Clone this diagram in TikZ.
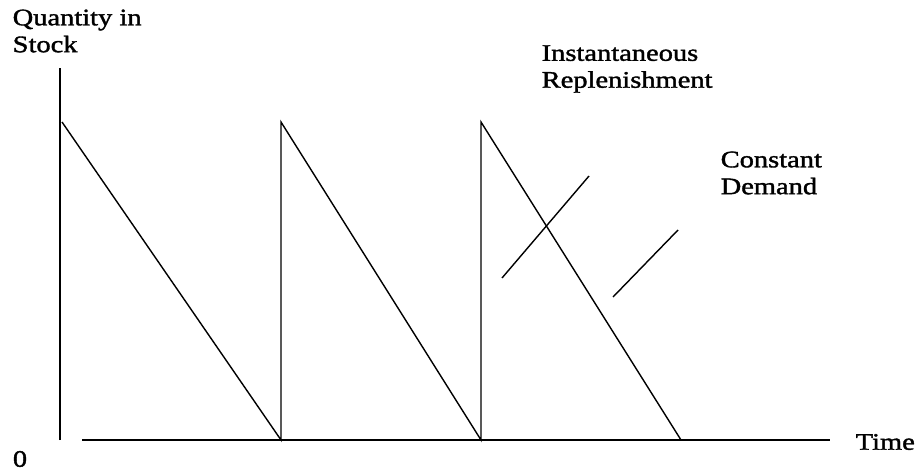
\documentclass[tikz,border=0pt]{standalone}
\usepackage{fontspec}
\setmainfont[FakeStretch=1.2,FakeBold=1.5]{Liberation Serif}
\usetikzlibrary{positioning}

\begin{document}
\begin{tikzpicture}[line width=0.8pt,
        lbl/.style={font=\fontsize{13.5}{15.3}\selectfont,align=left,inner sep=0pt}]
        \useasboundingbox (0,0) rectangle (18.34,9.4);
        % axes
        \draw (1.2,0.6) -- (1.2,8.04);
        \draw (1.64,0.6) -- (16.6,0.6);
        \node[lbl,anchor=west] (qty) at (0.24,8.78) {Quantity in\\Stock};
        \node[lbl,anchor=west] (time) at (17.1,0.56) {Time};
        \node[lbl] (zero) at (0.4,0.22) {0};
        % saw tooth
        \draw (1.24,6.96) -- (5.62,0.6) -- (5.62,6.96) -- (9.62,0.6) -- (9.62,6.96) -- (13.62,0.6);
        \draw (10.04,3.84) -- (11.78,5.88);
        \draw (12.26,3.46) -- (13.56,4.8);
        \node[lbl,anchor=west] (inst) at (10.82,8.02) {Instantaneous\\Replenishment};
        \node[lbl,anchor=west] (dem) at (14.4,5.94) {Constant\\Demand};
    \end{tikzpicture}
\end{document}
